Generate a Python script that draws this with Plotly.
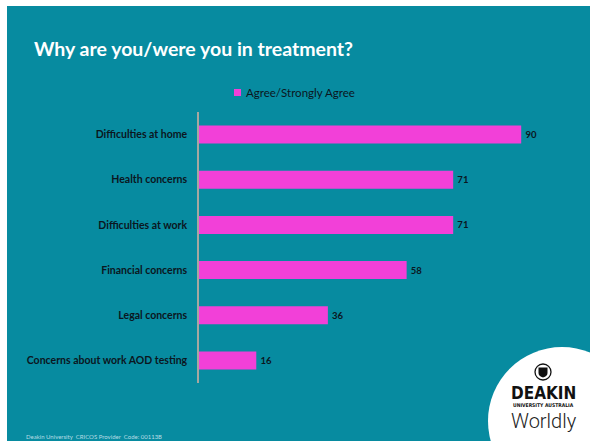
import plotly.graph_objects as go

categories = ["Difficulties at home", "Health concerns", "Difficulties at work",
              "Financial concerns", "Legal concerns", "Concerns about work AOD testing"]
values = [90, 71, 71, 58, 36, 16]
series_name = "Agree/Strongly Agree"

TEAL = "#078BA0"
MAGENTA = "#F240D8"
DARK = "#0B1620"
FONT = "Lato"

W, H = 590, 441
L, R, T, B = 199, 33, 112, 58

fig = go.Figure()
fig.add_trace(go.Bar(
    y=categories, x=values, orientation="h", name=series_name,
    marker=dict(color=MAGENTA, line=dict(width=0)),
    text=["\u2009" + str(v) for v in values], textposition="outside",
    textfont=dict(family=FONT, size=9.5, color=DARK, weight="bold"),
    cliponaxis=False, showlegend=False,
))

pw, ph = W - L - R, H - T - B
def px(x):
    return (x - L) / pw
def py(y):
    return (H - B - y) / ph

shapes = [
    dict(type="rect", xref="paper", yref="paper", x0=px(7), x1=px(W + 2),
         y0=py(H + 2), y1=py(6), fillcolor=TEAL, line=dict(width=0), layer="below"),
    # legend swatch
    dict(type="rect", xref="paper", yref="paper", x0=px(234), x1=px(241),
         y0=py(96), y1=py(89), fillcolor=MAGENTA, line=dict(width=0), layer="above"),
]

cx, cy, rr = 562, 421, 74
shapes.append(dict(type="circle", xref="paper", yref="paper",
                   x0=px(cx - rr), x1=px(cx + rr), y0=py(cy + rr), y1=py(cy - rr),
                   fillcolor="white", line=dict(width=0), layer="above"))
# emblem
shapes.append(dict(type="circle", xref="paper", yref="paper",
                   x0=px(535), x1=px(551), y0=py(380), y1=py(364),
                   fillcolor="white", line=dict(color="#111", width=1.3), layer="above"))
shapes.append(dict(type="path", xref="paper", yref="paper",
                   path=f"M {px(538.5)},{py(367.5)} L {px(547.5)},{py(367.5)} L {px(547.5)},{py(373)} "
                        f"Q {px(547.5)},{py(376)} {px(543)},{py(377.5)} Q {px(538.5)},{py(376)} {px(538.5)},{py(373)} Z",
                   fillcolor="#111", line=dict(width=0), layer="above"))

annotations = [
    dict(text="Why are you/were you in treatment?", xref="paper", yref="paper",
         x=px(32), y=py(48), xanchor="left", yanchor="middle", showarrow=False,
         font=dict(family=FONT, size=19.5, color="white", weight="bold")),
    dict(text=series_name, xref="paper", yref="paper",
         x=px(244), y=py(92.5), xanchor="left", yanchor="middle", showarrow=False,
         font=dict(family=FONT, size=11.5, color=DARK)),
    dict(text="Deakin University  CRICOS Provider  Code: 00113B", xref="paper", yref="paper",
         x=px(24), y=py(436), xanchor="left", yanchor="middle", showarrow=False,
         font=dict(family=FONT, size=6, color="#b8dde4")),
    dict(text="DEAKIN", xref="paper", yref="paper", x=px(543), y=py(393),
         xanchor="center", yanchor="middle", showarrow=False,
         font=dict(family="DejaVu Sans Condensed", size=17, color="#111", weight="bold")),
    dict(text="UNIVERSITY AUSTRALIA", xref="paper", yref="paper", x=px(543), y=py(405),
         xanchor="center", yanchor="middle", showarrow=False,
         font=dict(family="DejaVu Sans Condensed", size=5, color="#111", weight="bold")),
    dict(text="Worldly", xref="paper", yref="paper", x=px(544), y=py(421),
         xanchor="center", yanchor="middle", showarrow=False,
         font=dict(family="Roboto", size=20, color="#222", weight=300)),
]

fig.update_layout(
    width=W, height=H,
    margin=dict(l=L, r=R, t=T, b=B, pad=0),
    paper_bgcolor="white", plot_bgcolor="rgba(0,0,0,0)",
    bargap=0.6, showlegend=False,
    shapes=shapes, annotations=annotations,
    xaxis=dict(range=[0, 100], showgrid=False, zeroline=False, showticklabels=False,
               showline=False, ticks=""),
    yaxis=dict(autorange="reversed", showgrid=False, zeroline=False, showline=True,
               linecolor="#A7A7A0", linewidth=1.5, ticks="", ticklabelstandoff=8,
               tickfont=dict(family=FONT, size=10.5, color=DARK, weight="bold")),
)

fig.write_html("out.html")
